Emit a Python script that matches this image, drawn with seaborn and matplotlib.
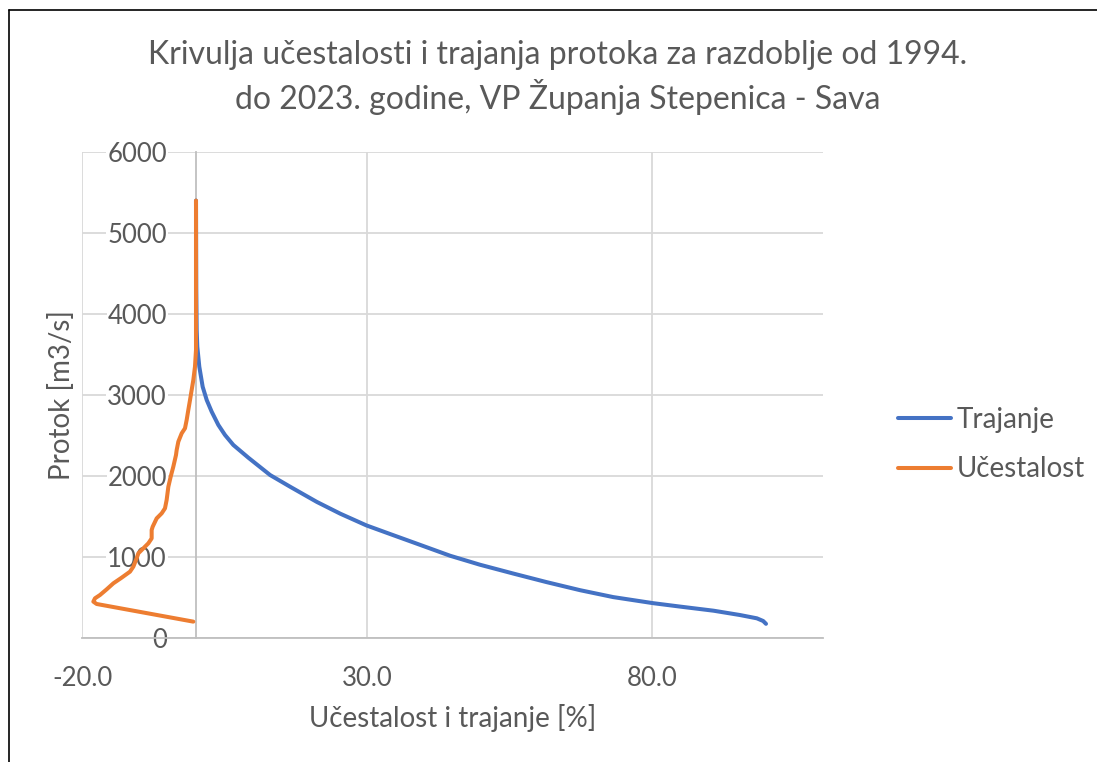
import matplotlib
matplotlib.use('Agg')
import matplotlib.pyplot as plt
import seaborn as sns
import pandas as pd
from matplotlib.lines import Line2D

# Trajanje (duration curve): percentage of time vs discharge [m3/s]
traj_x = [0.0, 0.05, 0.12, 0.23, 0.58, 1.17, 1.88, 2.75, 3.92, 5.09, 6.55, 9.2, 13.0,
          16.5, 21.2, 25.3, 29.9, 34.0, 39.9, 44.6, 49.8, 55.7, 61.5, 67.4, 73.2, 80.2,
          84.9, 90.8, 95.4, 98.4, 99.5, 100.0]
traj_y = [5400, 4300, 3800, 3596, 3349, 3102, 2938, 2794, 2630, 2506, 2383, 2225, 2012,
          1868, 1680, 1535, 1390, 1285, 1135, 1015, 905, 795, 690, 590, 505, 430,
          388, 337, 284, 243, 210, 175]

# Učestalost (frequency curve), plotted to the left as negative percentages
uc_x = [-0.47, -17.43, -18.01, -17.72, -16.84, -15.67, -14.50, -13.04, -11.58, -10.99,
        -10.41, -10.12, -9.24, -8.36, -7.78, -7.78, -7.60, -6.90, -6.02, -5.44, -5.15,
        -4.85, -4.44, -3.98, -3.51, -3.39, -3.10, -2.51, -1.93, -1.64, -1.35, -1.05,
        -0.76, -0.47, -0.18, 0.0, 0.0, 0.0]
uc_y = [202, 420, 449, 490, 531, 601, 675, 745, 819, 881,
        984, 1045, 1107, 1169, 1230, 1333, 1374, 1477, 1539, 1601, 1704,
        1868, 1992, 2115, 2259, 2321, 2424, 2527, 2589, 2691, 2815, 2938,
        3062, 3185, 3350, 3556, 3762, 5400]

series_names = ['Trajanje', 'Učestalost']
series_colors = ['#4472C4', '#ED7D31']
x_ticks = [-20, 30, 80]
y_ticks = [0, 1000, 2000, 3000, 4000, 5000, 6000]
title_lines = ['Krivulja učestalosti i trajanja protoka za razdoblje od 1994.',
               'do 2023. godine, VP Županja Stepenica - Sava']
x_label = 'Učestalost i trajanje [%]'
y_label = 'Protok [m3/s]'

sns.set_theme(style='white')
plt.rcParams['font.family'] = ['Lato', 'DejaVu Sans']

df = pd.concat([
    pd.DataFrame({'x': traj_x, 'y': traj_y, 'serija': series_names[0]}),
    pd.DataFrame({'x': uc_x, 'y': uc_y, 'serija': series_names[1]}),
], ignore_index=True)

W, H = 1097, 762
fig = plt.figure(figsize=(W / 100, H / 100), dpi=100)
L, R, T, B = 82, 823, 152, 638
ax = fig.add_axes([L / W, 1 - B / H, (R - L) / W, (B - T) / H])

sns.lineplot(data=df, x='x', y='y', hue='serija', hue_order=series_names,
             palette=dict(zip(series_names, series_colors)), sort=False,
             estimator=None, linewidth=2.9, ax=ax, zorder=3)
for ln in ax.get_lines():
    ln.set_solid_joinstyle('round')
    ln.set_solid_capstyle('round')

ax.set_xlim(-20, 110)
ax.set_ylim(0, 6000)
ax.set_xticks(x_ticks)
ax.set_xticklabels([f'{v:.1f}' for v in x_ticks])
ax.set_yticks(y_ticks)
ax.set_yticklabels([str(v) for v in y_ticks])

grey = '#595959'
ax.grid(True, color='#d9d9d9', linewidth=1.3)
ax.set_axisbelow(True)
for s in ['top', 'right']:
    ax.spines[s].set_visible(False)
ax.spines['left'].set_position(('data', 0))
ax.spines['bottom'].set_position(('data', 0))
for s in ['left', 'bottom']:
    ax.spines[s].set_color('#bfbfbf')
    ax.spines[s].set_linewidth(1.3)
ax.tick_params(axis='both', length=0, labelsize=18.5, colors=grey)
ax.tick_params(axis='y', pad=21)
ax.tick_params(axis='x', pad=20)
for lab in ax.get_yticklabels():
    lab.set_bbox(dict(facecolor='white', edgecolor='none', pad=0.5))

ax.set_xlabel(x_label, fontsize=20, color=grey)
ax.set_ylabel(y_label, fontsize=20, color=grey)
ax.xaxis.set_label_coords(0.5, -(718 - B) / (B - T))
ax.xaxis.label.set_va('center')
ax.yaxis.set_label_coords((62 - L) / (R - L), 0.5)
ax.yaxis.label.set_va('center')

handles, labels = ax.get_legend_handles_labels()
leg = ax.legend(handles, labels, loc='center left',
                bbox_to_anchor=((898 - L) / (R - L), (B - 444.5) / (B - T)),
                frameon=False, fontsize=20, handlelength=1.9, handletextpad=0.2,
                labelspacing=0.85, borderpad=0, borderaxespad=0)
for t in leg.get_texts():
    t.set_color(grey)

fig.text(558 / W, 1 - 55 / H, title_lines[0], ha='center', va='center', fontsize=23, color=grey)
fig.text(558 / W, 1 - 97 / H, title_lines[1], ha='center', va='center', fontsize=23, color=grey)

# outer chart border (left and top visible)
fig.add_artist(Line2D([9 / W, 9 / W], [0, 1 - 10 / H], color='black', linewidth=1.2,
                      transform=fig.transFigure))
fig.add_artist(Line2D([9 / W, 1], [1 - 10 / H, 1 - 10 / H], color='black', linewidth=1.2,
                      transform=fig.transFigure))

fig.savefig('out.png', dpi=100)
